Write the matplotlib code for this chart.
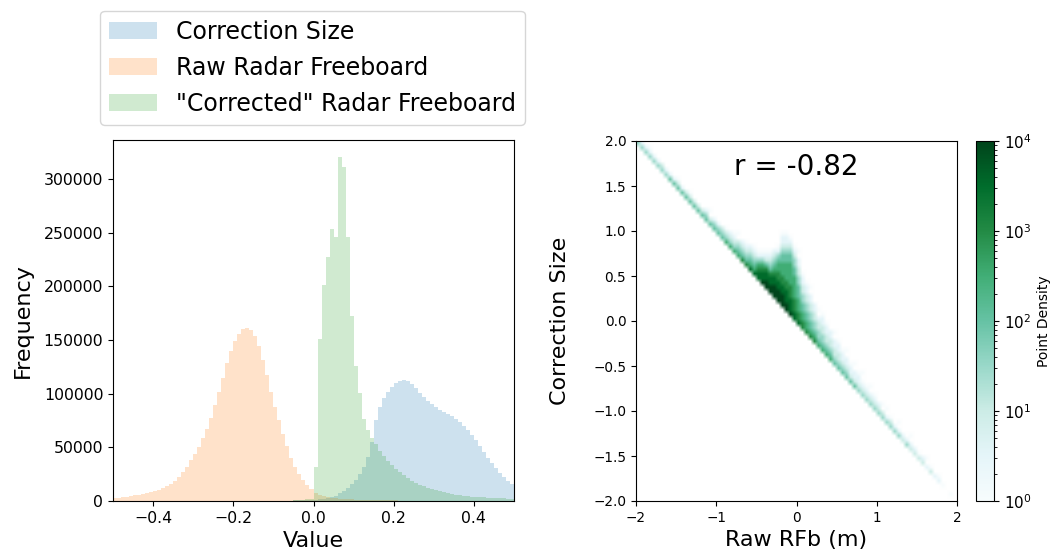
import numpy as np
import matplotlib
matplotlib.use("Agg")
import matplotlib.pyplot as plt
from matplotlib.colors import LogNorm

# ---- left panel: histograms, 0.01 wide bins from -0.5 to 0.5 ----
bin_edges = np.round(np.linspace(-0.5, 0.5, 101), 2)

correction_counts = [
    0, 0, 0, 0, 0, 0, 0, 0, 0, 0,
    0, 0, 0, 0, 0, 0, 0, 0, 0, 0,
    0, 0, 0, 0, 0, 0, 0, 0, 0, 0,
    50, 60, 70, 80, 100, 120, 140, 160, 190, 220,
    260, 300, 350, 400, 460, 530, 610, 700, 800, 900,
    1100, 1600, 2200, 3000, 4000, 5000, 7000, 9500, 12500, 16000,
    20000, 25000, 31500, 41000, 55000, 75000, 88000, 96000, 102000, 106500,
    109500, 111500, 113000, 112000, 109000, 105000, 100500, 96500, 93000, 90000,
    87500, 85200, 83200, 81200, 79000, 76500, 73500, 70000, 66000, 61500,
    56500, 51000, 45500, 40500, 35500, 31000, 26500, 22500, 19000, 15500,
]

raw_counts = [
    2400, 2800, 3300, 3800, 4500, 5200, 6000, 6800, 7700, 8600,
    9500, 10500, 11800, 13700, 16000, 19000, 22500, 27000, 32000, 38000,
    44000, 50500, 58500, 67500, 77500, 89000, 102000, 115000, 128500, 140000,
    149000, 155500, 160000, 161500, 159000, 153500, 144000, 131000, 117000, 102000,
    88000, 75000, 62500, 51000, 40500, 32000, 25000, 19500, 15000, 11000,
    7500, 5500, 4300, 3500, 2900, 2500, 2100, 1800, 1600, 1400,
    1250, 1100, 1000, 900, 820, 750, 690, 630, 580, 530,
    490, 450, 420, 390, 360, 330, 310, 290, 270, 250,
    230, 215, 200, 185, 170, 160, 150, 140, 130, 120,
    110, 100, 95, 90, 85, 80, 75, 70, 65, 60,
]

corrected_counts = [
    0, 0, 0, 0, 0, 0, 0, 0, 0, 0,
    0, 0, 0, 0, 0, 0, 0, 0, 0, 0,
    0, 0, 0, 0, 0, 0, 0, 0, 0, 0,
    0, 0, 0, 0, 0, 0, 0, 0, 0, 0,
    100, 150, 200, 300, 400, 550, 750, 1000, 1400, 2000,
    32000, 150500, 201000, 227000, 253500, 245500, 320300, 311000, 245500, 172000,
    125500, 100500, 76000, 66000, 59000, 53000, 47000, 42000, 37500, 33500,
    30000, 27000, 24000, 21300, 19000, 17000, 15200, 13600, 12200, 11000,
    9900, 8900, 8000, 7200, 6500, 5900, 5400, 4900, 4500, 4100,
    3800, 3500, 3300, 3100, 2900, 2700, 2500, 2400, 2300, 2200,
]

hist_labels = ["Correction Size", "Raw Radar Freeboard", '"Corrected" Radar Freeboard']

# ---- right panel: 2D histogram of raw RFb vs correction size ----
# 80 x 80 cells over [-2, 2]. Each column string gives density levels going
# upward from the cell holding y = -x (corrected freeboard = 0).
# level L -> count 10 ** ((L - 1) / 2); blank = empty cell
grid_edges = np.linspace(-2, 2, 81)
density_cols = [
    "42", "42", "42", "421", "42", "42", "43", "42",
    "52", "52", "531", "52", "53", "531", "53", "53",
    "53", "542", "53 1", "542", "542", "543",
    "6431", "6432", "64321", "6543 1",
    "75432", "754321", "865432", "8654321",
    "8876421", "98876421", "998875321", "9988754321",
    "99988765432", "9998877665421", "99988776665543221",
    "998887766665543221", "988877766666554321",
    "88777666665544321", "877666555443322 1",
    "7766554433221", "766554433221", "7655443322 1", "765443322",
    "6544332 1", "654433221", "65433221", "6543322", "543322 1",
    "5433221", "543221", "54322 1", "53221", "5322 1",
    "43221", "4321 1", "4321", "432 1", "4321",
    "432", "43 1", "42 1", "431", "42", "42 1", "32", "42",
    "32 1", "32", "31", "32", "2 1", "31", "2", "21", "1", "", "1", "",
]
r_value = -0.82

fig = plt.figure(figsize=(10.6, 5.58), dpi=100)
ax1 = fig.add_axes([113 / 1060, 57 / 558, 401 / 1060, 361 / 558])
ax2 = fig.add_axes([636 / 1060, 57 / 558, 321 / 1060, 360 / 558])
cax = fig.add_axes([976 / 1060, 57 / 558, 18 / 1060, 360 / 558])

centers = (bin_edges[:-1] + bin_edges[1:]) / 2
for counts, lab in zip([correction_counts, raw_counts, corrected_counts], hist_labels):
    ax1.hist(centers, bins=bin_edges, weights=counts, histtype="stepfilled",
             alpha=0.22, label=lab)
ax1.set_xlim(-0.5, 0.5)
ax1.set_xlabel("Value", fontsize=16)
ax1.set_ylabel("Frequency", fontsize=16)
ax1.yaxis.set_label_coords(-0.2, 0.5)
ax1.tick_params(labelsize=11.3)
ax1.legend(loc="lower left", bbox_to_anchor=(100 / 1060, 433 / 558),
           bbox_transform=fig.transFigure, borderaxespad=0, fontsize=17)

# build the count grid
xc = (grid_edges[:-1] + grid_edges[1:]) / 2
density = np.zeros((80, 80))
for i, levels in enumerate(density_cols):
    start = np.searchsorted(grid_edges, -xc[i]) - 1
    for k, ch in enumerate(levels):
        if ch != " " and start + k < 80:
            density[start + k, i] = 10 ** ((int(ch) - 1) / 2)

cmap = plt.get_cmap("BuGn").copy()
cmap.set_bad("white")
img = ax2.imshow(np.ma.masked_equal(density, 0), origin="lower",
                 extent=(-2, 2, -2, 2), aspect="auto", cmap=cmap,
                 norm=LogNorm(vmin=1, vmax=1e4), interpolation="bilinear",
                 interpolation_stage="rgba")
ax2.set_xlim(-2, 2)
ax2.set_ylim(-2, 2)
ax2.set_xlabel("Raw RFb (m)", fontsize=16)
ax2.set_ylabel("Correction Size", fontsize=16)
ax2.yaxis.set_label_coords(-0.206, 0.5)
ax2.tick_params(labelsize=9.8)
ax2.text(0, 1.71, f"r = {r_value:.2f}", fontsize=20, ha="center", va="center")

cb = fig.colorbar(img, cax=cax)
cb.set_label("Point Density", fontsize=10)
cb.ax.tick_params(labelsize=11)

fig.savefig("out.png", dpi=100)
